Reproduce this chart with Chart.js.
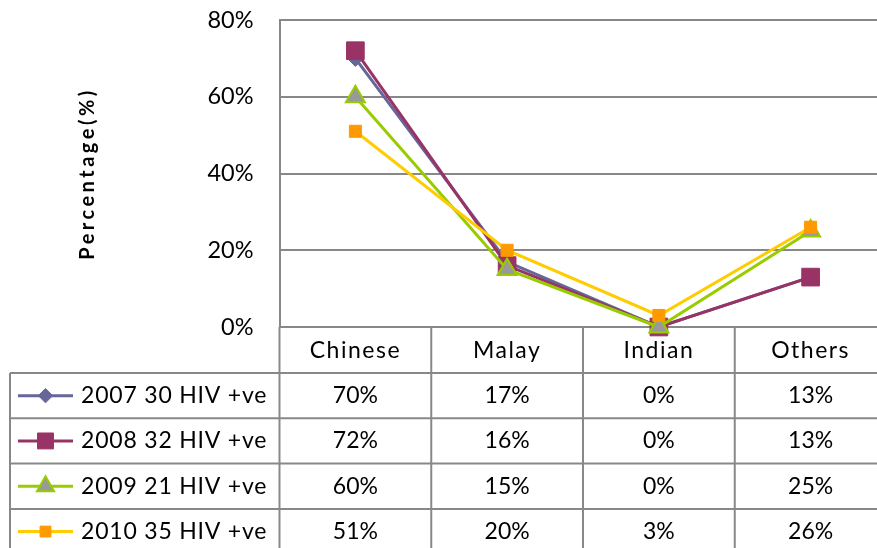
<!DOCTYPE html>
<html><head><meta charset="utf-8">
<script src="https://cdn.jsdelivr.net/npm/chart.js@4/dist/chart.umd.min.js"></script>
<style>html,body{margin:0;padding:0;background:#fff;overflow:hidden}#wrap{width:900px;height:548px}</style>
</head><body><div id="wrap"><canvas id="c" width="900" height="548"></canvas></div>
<script>
const categories = ['Chinese', 'Malay', 'Indian', 'Others'];
const seriesLabels = ['2007 30 HIV +ve', '2008 32 HIV +ve', '2009 21 HIV +ve', '2010 35 HIV +ve'];
const values2007 = [70, 17, 0, 13];
const values2008 = [72, 16, 0, 13];
const values2009 = [60, 15, 0, 25];
const values2010 = [51, 20, 3, 26];
const yTickValues = [0, 20, 40, 60, 80];
const yTitle = 'Percentage(%)';

const FONT = 'Lato, "Open Sans", sans-serif';
const GRID = '#888888';

const datasets = [
  {label: seriesLabels[0], data: values2007, borderColor: '#666699', backgroundColor: '#666699',
   pointStyle: 'rectRot', pointRadius: 8, pointBorderWidth: 1, order: 3},
  {label: seriesLabels[1], data: values2008, borderColor: '#993366', backgroundColor: '#993366',
   pointStyle: 'rect', pointRadius: 12.5, pointBorderWidth: 1, order: 2},
  {label: seriesLabels[2], data: values2009, borderColor: '#99CC00', backgroundColor: '#999999',
   pointBorderColor: '#99CC00', pointStyle: 'triangle', pointRadius: 11, pointBorderWidth: 2, order: 1},
  {label: seriesLabels[3], data: values2010, borderColor: '#FFCC00', backgroundColor: '#FF9900',
   pointBorderColor: '#FF9900', pointStyle: 'rect', pointRadius: 8.5, pointBorderWidth: 1, order: 0}
].map(d => Object.assign({borderWidth: 3, tension: 0, clip: false, fill: false,
  pointHoverRadius: d.pointRadius}, d));

function line(ctx, x1, y1, x2, y2) { ctx.beginPath(); ctx.moveTo(x1, y1); ctx.lineTo(x2, y2); ctx.stroke(); }

const tablePlugin = {
  id: 'dataTable',
  beforeDraw(chart) {
    const y = chart.scales.y;
    if (!y._wrapped) {
      const orig = y.drawTitle.bind(y);
      y.drawTitle = function () { const c = this.ctx; c.save(); c.letterSpacing = '3.5px'; orig(); c.restore(); };
      y._wrapped = true;
    }
  },
  beforeDatasetsDraw(chart) {
    const {ctx, chartArea: a, scales: {x}} = chart;
    const n = categories.length;
    const colW = (a.right - a.left) / n;
    const headerH = 46, rowH = 45.3, tableLeft = 10, tableBottom = 560;
    const headerBottom = a.bottom + headerH;
    ctx.save();
    ctx.strokeStyle = GRID; ctx.lineWidth = 2;
    for (let i = 0; i <= n; i++) { const xx = a.left + i * colW; line(ctx, xx, a.bottom, xx, tableBottom); }
    for (let r = 0; r < chart.data.datasets.length; r++) {
      const yy = headerBottom + r * rowH; line(ctx, tableLeft, yy, a.right, yy);
    }
    line(ctx, tableLeft, headerBottom, tableLeft, tableBottom);
    ctx.fillStyle = '#000'; ctx.textAlign = 'center'; ctx.textBaseline = 'middle';
    ctx.font = '23px ' + FONT;
    ctx.letterSpacing = '1.5px';
    categories.forEach((c, i) => ctx.fillText(c, x.getPixelForValue(i), a.bottom + headerH / 2 + 1));
    chart.data.datasets.forEach((ds, r) => {
      const cy = headerBottom + r * rowH + rowH / 2;
      ctx.strokeStyle = ds.borderColor; ctx.lineWidth = 3;
      line(ctx, 18, cy, 73, cy);
      ctx.fillStyle = ds.backgroundColor;
      ctx.strokeStyle = ds.pointBorderColor || ds.borderColor;
      ctx.lineWidth = ds.pointBorderWidth;
      Chart.helpers.drawPoint(ctx, {pointStyle: ds.pointStyle, radius: ds.pointRadius * 0.9,
        borderWidth: ds.pointBorderWidth, rotation: 0}, 45.5, cy);
      ctx.fillStyle = '#000'; ctx.textAlign = 'left';
      ctx.font = '23px ' + FONT;
      ctx.letterSpacing = '0.8px';
      ctx.fillText(ds.label, 81, cy, 188);
      ctx.letterSpacing = '0px';
      ctx.textAlign = 'center';
      ds.data.forEach((v, i) => ctx.fillText(v + '%', x.getPixelForValue(i), cy));
    });
    ctx.restore();
  }
};

new Chart(document.getElementById('c'), {
  type: 'line',
  data: {labels: categories, datasets},
  options: {
    responsive: false, animation: false,
    layout: {padding: {top: 20, left: 0, right: 9.5, bottom: 221}},
    plugins: {legend: {display: false}, tooltip: {enabled: false}},
    scales: {
      x: {type: 'category', offset: true, display: false},
      y: {
        min: 0, max: 80,
        afterBuildTicks: s => { s.ticks = yTickValues.map(v => ({value: v})); },
        afterFit: s => { s.width = 279.5; s.paddingTop = 0; s.paddingBottom = 0; },
        grid: {color: GRID, lineWidth: 2, drawTicks: false},
        border: {display: true, color: GRID, width: 2},
        ticks: {padding: 26, color: '#000', font: {family: FONT, size: 23.5}, callback: v => v + '%'},
        title: {display: true, text: yTitle, color: '#000', padding: {top: 76},
          font: {family: FONT, size: 20, weight: 'bold'}}
      }
    }
  },
  plugins: [tablePlugin]
});
</script></body></html>
